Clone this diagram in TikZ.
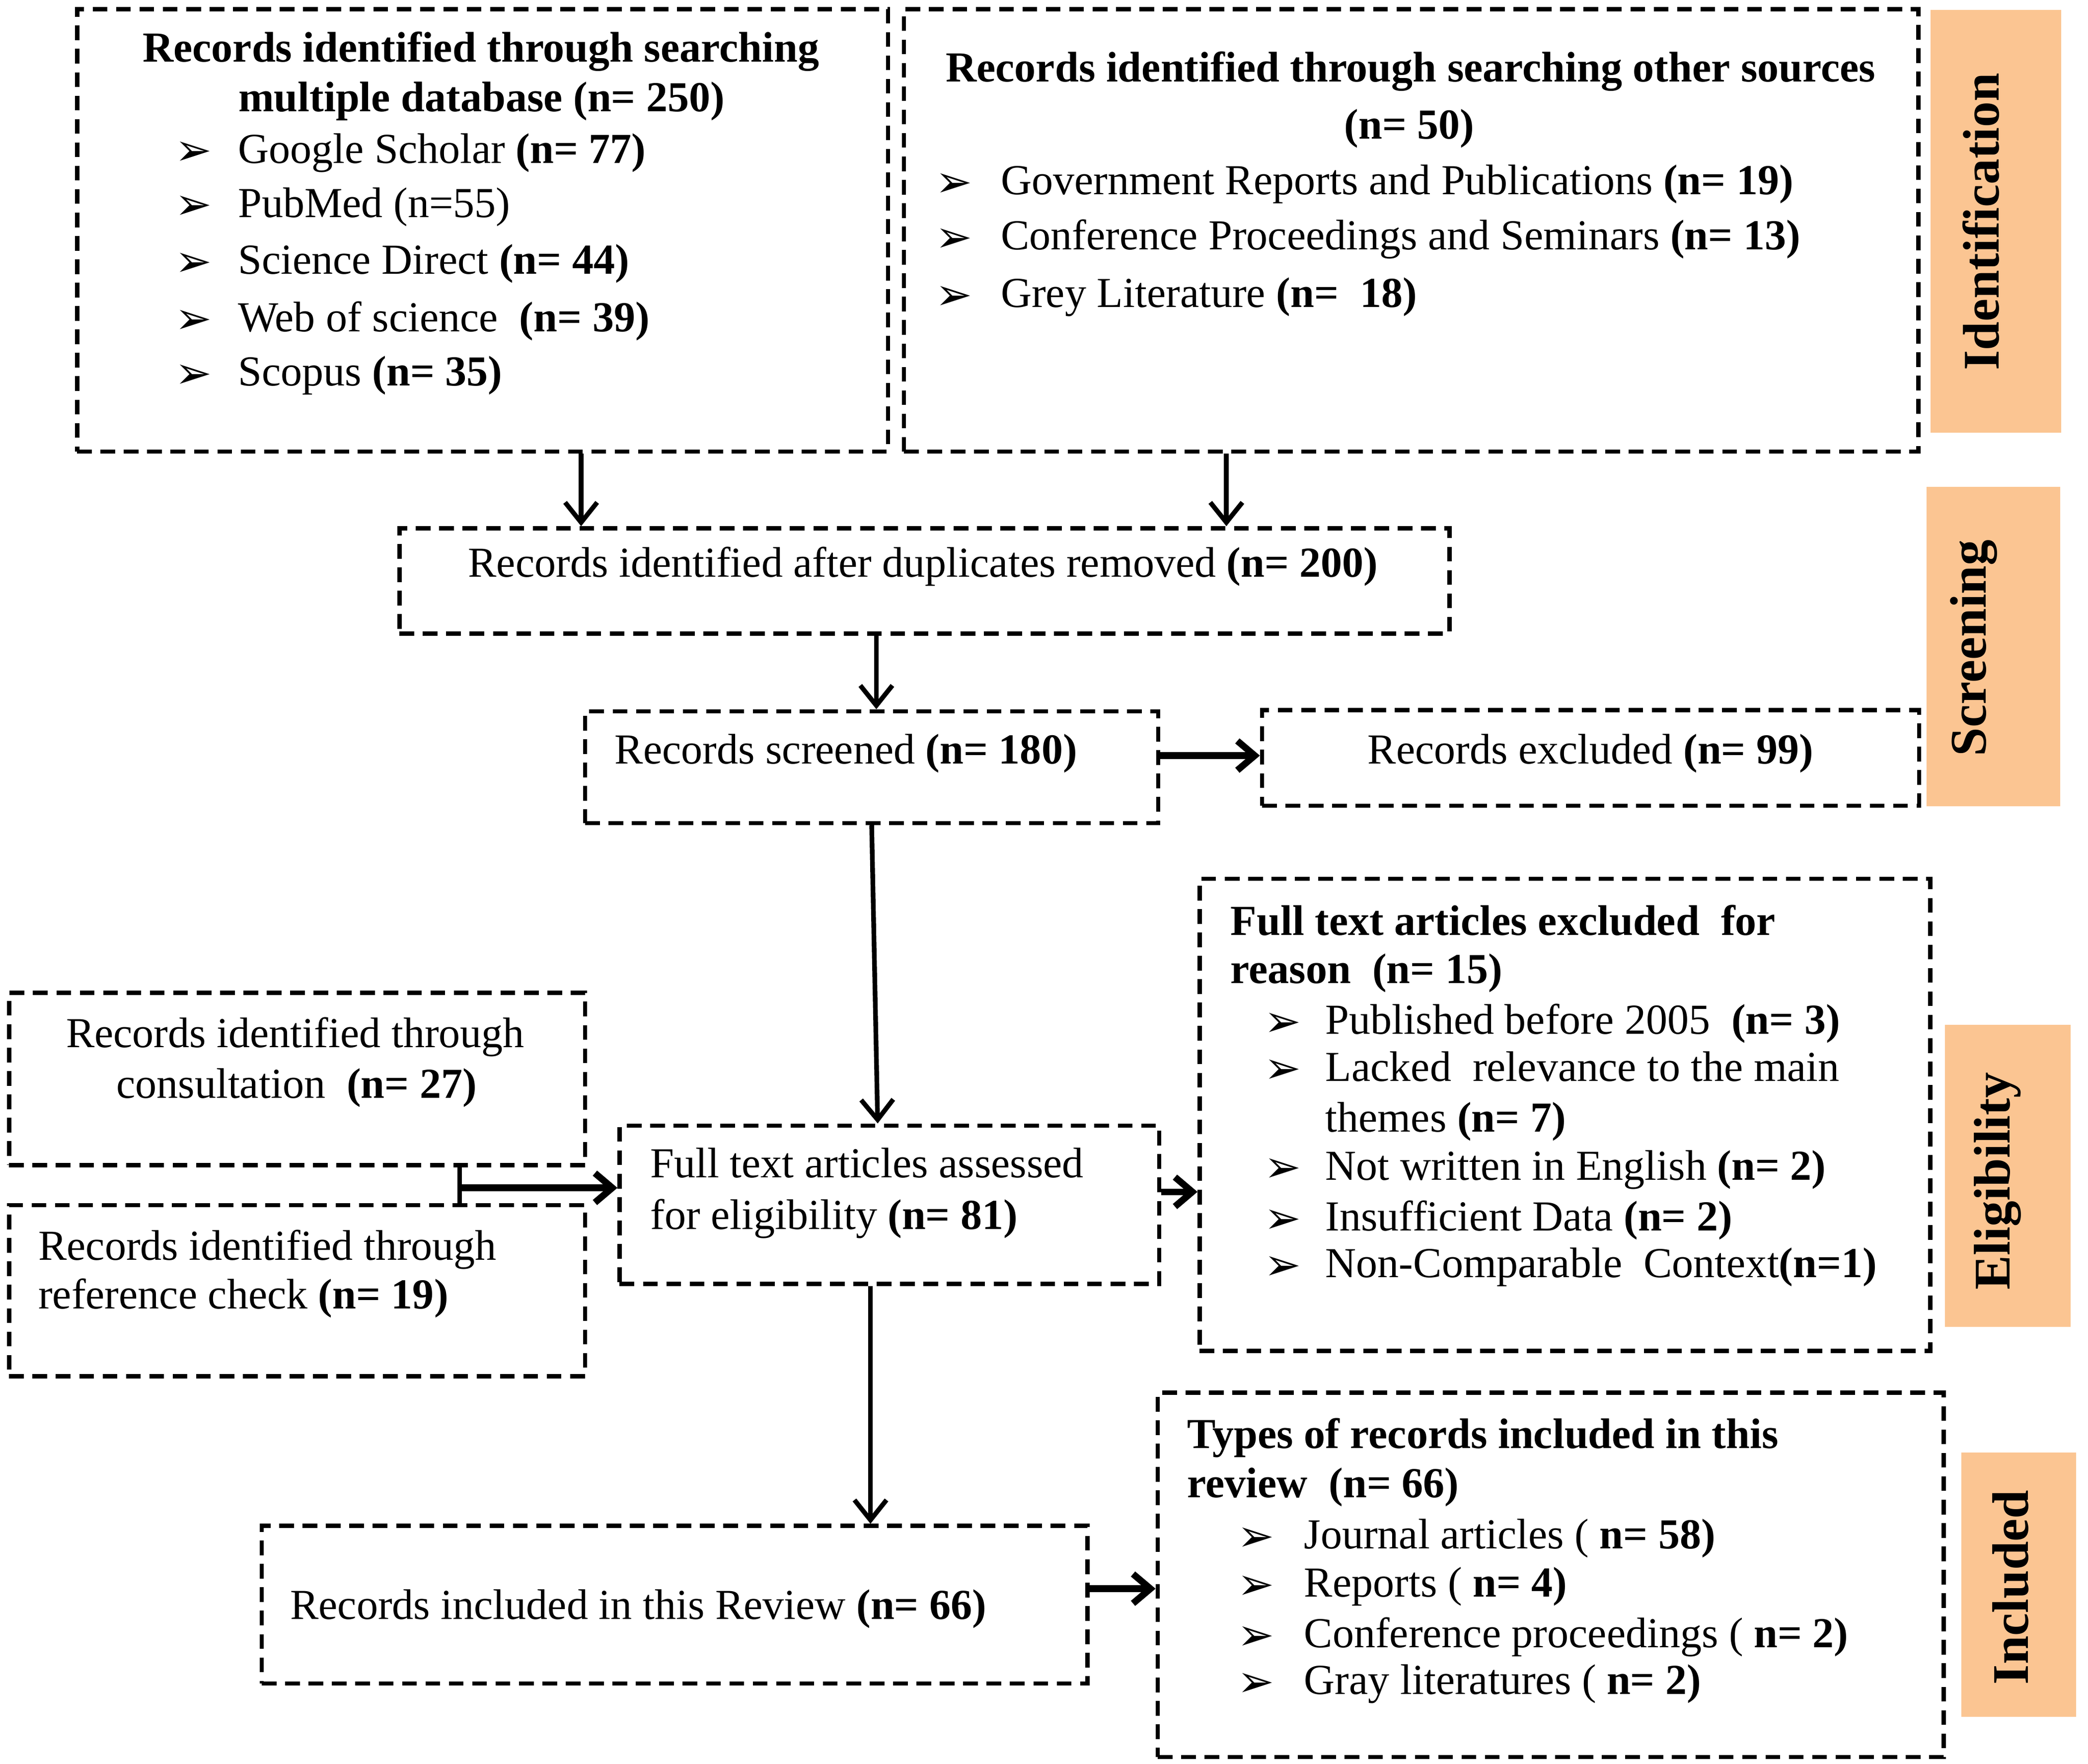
\documentclass[tikz,border=0pt]{standalone}
\usepackage{fontspec}
\setmainfont{Liberation Serif}
\newfontfamily\dejavu{DejaVu Sans}
\usetikzlibrary{arrows.meta}
\definecolor{phasecol}{RGB}{251,197,146}
\begin{document}
\begin{tikzpicture}[x=1pt,y=-1pt,
  box/.style={draw, line width=3.2pt, dash pattern=on 11pt off 6.5pt, inner sep=0pt},
  phase/.style={fill=phasecol, inner sep=0pt},
  plab/.style={rotate=90, font=\fontsize{38.5}{40}\selectfont\bfseries, inner sep=0pt},
  tl/.style={anchor=west, inner sep=0pt, text height=22pt, text depth=8pt, font=\fontsize{32}{36}\selectfont},
  tc/.style={tl, anchor=center},
  hl/.style={tl, font=\fontsize{32}{36}\selectfont\bfseries},
  hc/.style={hl, anchor=center},
  bul/.style={anchor=west, inner sep=0pt, font=\dejavu\fontsize{33}{34}\selectfont},
  arr/.style={line width=3.5pt, -{Straight Barb[length=15pt,width=24pt]}},
  harr/.style={line width=5pt, -{Straight Barb[length=13pt,width=22pt]}},
]
\useasboundingbox (0,0) rectangle (1563,1320);

% phase labels
\node[phase, minimum width=98pt, minimum height=316.7pt] (pid) at (1494,165.65) {};
\node[plab] (lid) at (1483,166) {Identification};
\node[phase, minimum width=100pt, minimum height=239pt] (pscr) at (1492,484) {};
\node[plab] (lscr) at (1477.5,485) {Screening};
\node[phase, minimum width=94pt, minimum height=226pt] (pel) at (1503,880) {};
\node[plab] (lel) at (1495.5,884) {Eligibility};
\node[phase, minimum width=86pt, minimum height=198pt] (pin) at (1511,1186) {};
\node[plab] (lin) at (1505,1188) {Included};

% boxes
\node[box, minimum width=607pt, minimum height=331.2pt] (b1) at (361.2,172.4) {};
\node[box, minimum width=759.3pt, minimum height=331.1pt] (b2) at (1056.35,172.35) {};
\node[box, minimum width=786pt, minimum height=78.8pt] (dup) at (692,434.8) {};
\node[box, minimum width=429pt, minimum height=83.6pt] (scr) at (652.5,574.2) {};
\node[box, minimum width=491.9pt, minimum height=71.5pt] (exc) at (1190.65,567.25) {};
\node[box, minimum width=547pt, minimum height=353.3pt] (fte) at (1171.5,834.35) {};
\node[box, minimum width=431.2pt, minimum height=129pt] (cons) at (222.4,807.5) {};
\node[box, minimum width=431.2pt, minimum height=128pt] (ref) at (222.4,966) {};
\node[box, minimum width=404pt, minimum height=118.4pt] (ft) at (665.8,901.6) {};
\node[box, minimum width=618pt, minimum height=118pt] (inc) at (505,1201) {};
\node[box, minimum width=588.4pt, minimum height=272.6pt] (typ) at (1160.8,1178.7) {};

% box 1 text
\node[hc] (b1h1) at (360,39.4) {Records identified through searching};
\node[hc] (b1h2) at (360.5,76.6) {multiple database (n= 250)};
\foreach \y/\t [count=\i] in {115/{Google Scholar \textbf{(n= 77)}},
  155.5/{PubMed (n=55)},
  198/{Science Direct \textbf{(n= 44)}},
  241/{Web of science\ \ \textbf{(n= 39)}},
  281.7/{Scopus \textbf{(n= 35)}}}{
  \node[bul] (b1b\i) at (131,\y) {➢};
  \node[tl] (b1t\i) at (178,\y) {\t};
}

% box 2 text
\node[hc] (b2h1) at (1056,54) {Records identified through searching other sources};
\node[hc] (b2h2) at (1055,97) {(n= 50)};
\foreach \y/\t [count=\i] in {138.6/{Government Reports and Publications \textbf{(n= 19)}},
  180/{Conference Proceedings and Seminars \textbf{(n= 13)}},
  223/{Grey Literature \textbf{(n=\ \ 18)}}}{
  \node[bul] (b2b\i) at (700,\y) {➢};
  \node[tl] (b2t\i) at (749,\y) {\t};
}

% single line boxes
\node[tc] (duptxt) at (691,425) {Records identified after duplicates removed \textbf{(n= 200)}};
\node[tl] (scrtxt) at (460,564.7) {Records screened \textbf{(n= 180)}};
\node[tc] (exctxt) at (1190.6,564.7) {Records excluded \textbf{(n= 99)}};

% full text excluded
\node[hl] (fteh1) at (921,693) {Full text articles excluded\ \ for};
\node[hl] (fteh2) at (921,729) {reason\ \ (n= 15)};
\foreach \y/\t [count=\i] in {767/{Published before 2005\ \ \textbf{(n= 3)}},
  802/{Lacked\ \ relevance to the main},
  876/{Not written in English \textbf{(n= 2)}},
  914/{Insufficient Data \textbf{(n= 2)}},
  949/{Non-Comparable\ \ Context\textbf{(n=1)}}}{
  \node[bul] (fteb\i) at (946,\y) {➢};
  \node[tl] (ftet\i) at (992,\y) {\t};
}
\node[tl] (ftet6) at (992,840) {themes \textbf{(n= 7)}};

% consultation / reference check
\node[tc] (cons1) at (221,777) {Records identified through};
\node[tc] (cons2) at (222,814.7) {consultation\ \ \textbf{(n= 27)}};
\node[tl] (ref1) at (28.5,936) {Records identified through};
\node[tl] (ref2) at (28.5,972.6) {reference check \textbf{(n= 19)}};

% full text assessed
\node[tl] (ft1) at (486.6,874.4) {Full text articles assessed};
\node[tl] (ft2) at (486.6,912.8) {for eligibility \textbf{(n= 81)}};

% included
\node[tl] (inctxt) at (217,1205) {Records included in this Review \textbf{(n= 66)}};

% types
\node[hl] (typh1) at (888.6,1077) {Types of records included in this};
\node[hl] (typh2) at (888.6,1113.6) {review\ \ (n= 66)};
\foreach \y/\t [count=\i] in {1152/{Journal articles ( \textbf{n= 58)}},
  1188/{Reports ( \textbf{n= 4)}},
  1226/{Conference proceedings ( \textbf{n= 2)}},
  1261/{Gray literatures ( \textbf{n= 2)}}}{
  \node[bul] (typb\i) at (926,\y) {➢};
  \node[tl] (typt\i) at (976,\y) {\t};
}

% connectors
\coordinate (c1) at (435,0);
\coordinate (c2) at (918,0);
\coordinate (c3) at (656,0);
\coordinate (c5) at (651.6,0);
\coordinate (r1) at (0,565.5);
\coordinate (r2) at (0,892);
\coordinate (r3) at (0,1189);
\coordinate (j) at (344,889);
\draw[arr] (b1.south -| c1) -- (dup.north -| c1);
\draw[arr] (b2.south -| c2) -- (dup.north -| c2);
\draw[arr] (dup.south -| c3) -- (scr.north -| c3);
\draw[arr] (scr.south) -- ([xshift=-8.8pt]ft.north);
\draw[arr] (ft.south -| c5) -- (inc.north -| c5);
\draw[harr] (scr.east |- r1) -- (exc.west |- r1);
\draw[harr] (ft.east |- r2) -- (fte.west |- r2);
\draw[harr] (inc.east |- r3) -- (typ.west |- r3);
\draw[line width=3.5pt] (cons.south -| j) -- (ref.north -| j);
\draw[harr] (j) -- (ft.west |- j);
\end{tikzpicture}
\end{document}
